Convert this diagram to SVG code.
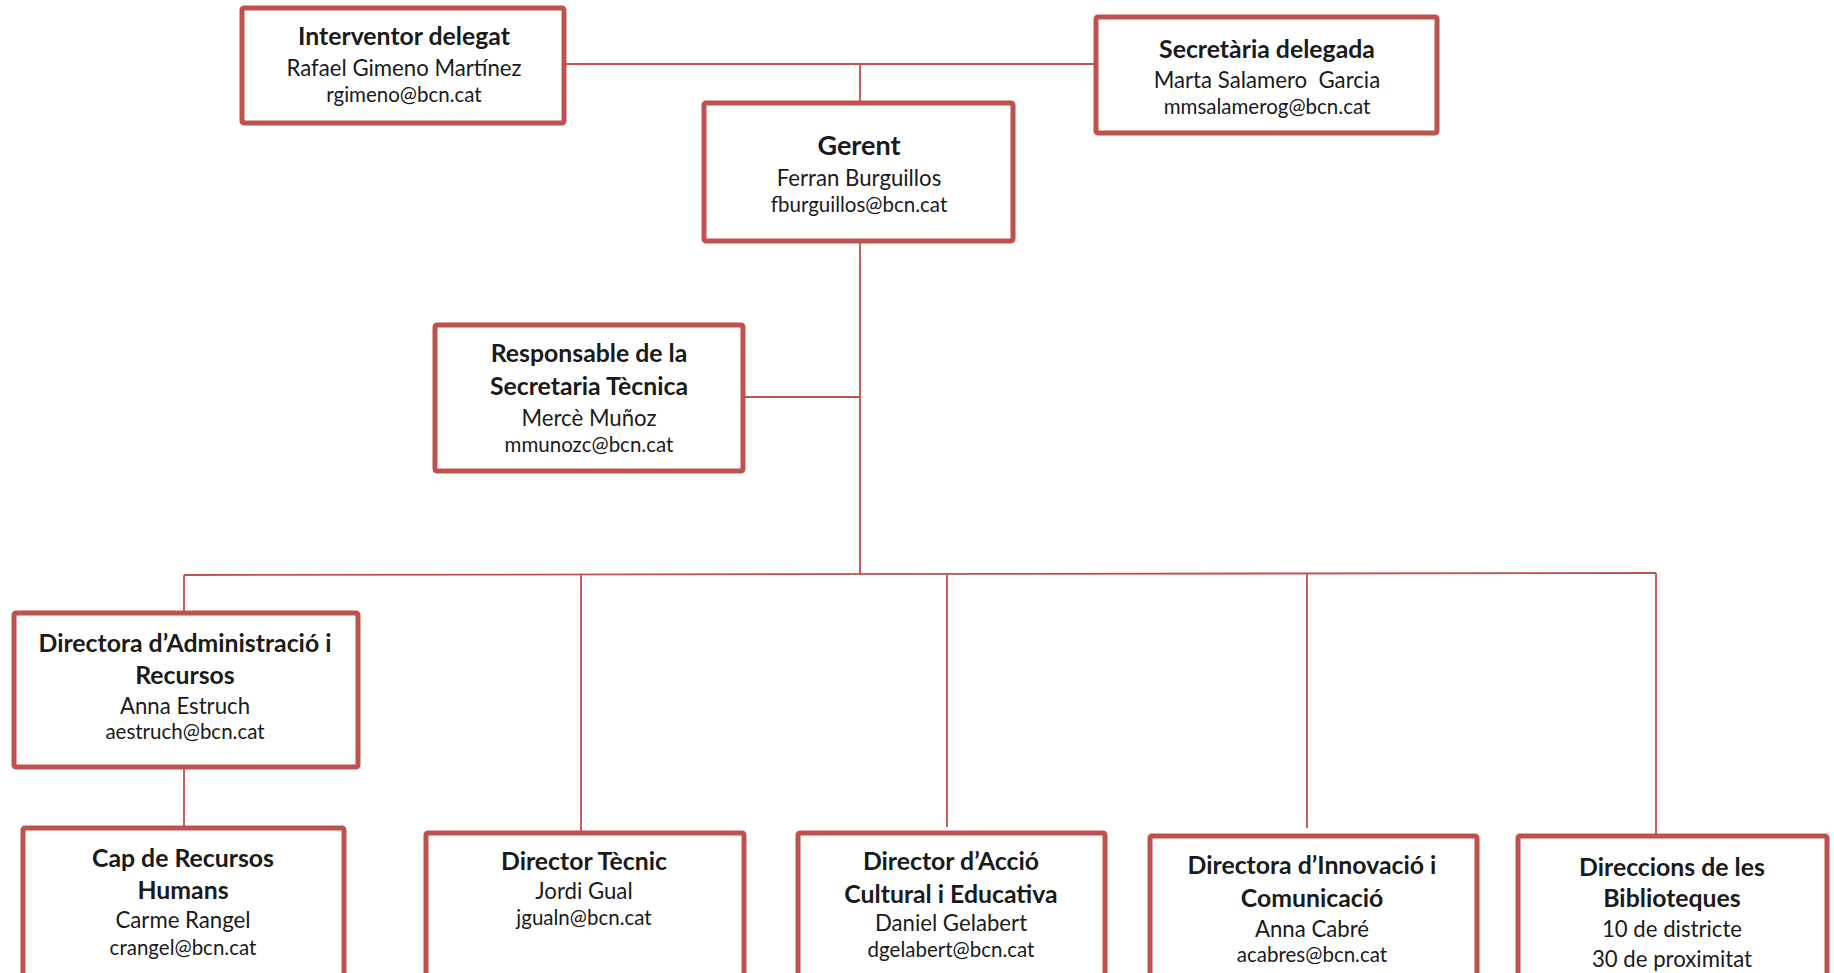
<svg xmlns="http://www.w3.org/2000/svg" width="1834" height="973" viewBox="0 0 1834 973">
<style>
.box{fill:#fff;stroke:#C0504D;stroke-width:5}
.ln{stroke:#C0504D;stroke-width:1.8;fill:none}
text{font-family:Lato,"Liberation Sans",sans-serif;fill:#1a1a1a;text-anchor:middle;white-space:pre}
.t{font-weight:bold;font-size:24.8px}
.g{font-weight:bold;font-size:27px}
.n{font-size:22.2px}
.e{font-size:20.5px}
</style>
<rect width="1834" height="973" fill="#fff"/>
<g id="connectors">
<path class="ln" d="M564 64H1096M860 64V102M860 241V574M743 397H860M184 575L1656 573M184 575V612M184 767V827M581 575V832M947 574V827M1307 573V828M1656 573V835"/>
</g>
<g id="interventor">
<rect class="box" x="242" y="8" width="322" height="115" rx="2"/>
<text class="t" x="404" y="45">Interventor delegat</text>
<text class="n" x="404" y="76">Rafael Gimeno Martínez</text>
<text class="e" x="404" y="102">rgimeno@bcn.cat</text>
</g>
<g id="secretaria">
<rect class="box" x="1096" y="17" width="341" height="116" rx="2"/>
<text class="t" x="1267" y="58">Secretària delegada</text>
<text class="n" x="1267" y="88" xml:space="preserve">Marta Salamero  Garcia</text>
<text class="e" x="1267" y="114">mmsalamerog@bcn.cat</text>
</g>
<g id="gerent">
<rect class="box" x="704" y="103" width="309" height="138" rx="2"/>
<text class="g" x="859" y="155">Gerent</text>
<text class="n" x="859" y="186">Ferran Burguillos</text>
<text class="e" x="859" y="212">fburguillos@bcn.cat</text>
</g>
<g id="responsable">
<rect class="box" x="435" y="325" width="308" height="146" rx="2"/>
<text class="t" x="589" y="362">Responsable de la</text>
<text class="t" x="589" y="395">Secretaria Tècnica</text>
<text class="n" x="589" y="426">Mercè Muñoz</text>
<text class="e" x="589" y="452">mmunozc@bcn.cat</text>
</g>
<g id="admin">
<rect class="box" x="14" y="613" width="344" height="154" rx="2"/>
<text class="t" x="185" y="652">Directora d’Administració i</text>
<text class="t" x="185" y="684">Recursos</text>
<text class="n" x="185" y="714">Anna Estruch</text>
<text class="e" x="185" y="739">aestruch@bcn.cat</text>
</g>
<g id="rrhh">
<rect class="box" x="23" y="828" width="321" height="160" rx="2"/>
<text class="t" x="183" y="867">Cap de Recursos</text>
<text class="t" x="183" y="899">Humans</text>
<text class="n" x="183" y="928">Carme Rangel</text>
<text class="e" x="183" y="955">crangel@bcn.cat</text>
</g>
<g id="tecnic">
<rect class="box" x="426" y="833" width="318" height="160" rx="2"/>
<text class="t" x="584" y="870">Director Tècnic</text>
<text class="n" x="584" y="899">Jordi Gual</text>
<text class="e" x="584" y="925">jgualn@bcn.cat</text>
</g>
<g id="accio">
<rect class="box" x="798" y="833" width="307" height="160" rx="2"/>
<text class="t" x="951" y="870">Director d’Acció</text>
<text class="t" x="951" y="903">Cultural i Educativa</text>
<text class="n" x="951" y="931">Daniel Gelabert</text>
<text class="e" x="951" y="957">dgelabert@bcn.cat</text>
</g>
<g id="innovacio">
<rect class="box" x="1150" y="836" width="327" height="160" rx="2"/>
<text class="t" x="1312" y="874">Directora d’Innovació i</text>
<text class="t" x="1312" y="907">Comunicació</text>
<text class="n" x="1312" y="937">Anna Cabré</text>
<text class="e" x="1312" y="962">acabres@bcn.cat</text>
</g>
<g id="biblioteques">
<rect class="box" x="1518" y="836" width="309" height="160" rx="2"/>
<text class="t" x="1672" y="876">Direccions de les</text>
<text class="t" x="1672" y="907">Biblioteques</text>
<text class="n" x="1672" y="937">10 de districte</text>
<text class="n" x="1672" y="967">30 de proximitat</text>
</g>
</svg>
